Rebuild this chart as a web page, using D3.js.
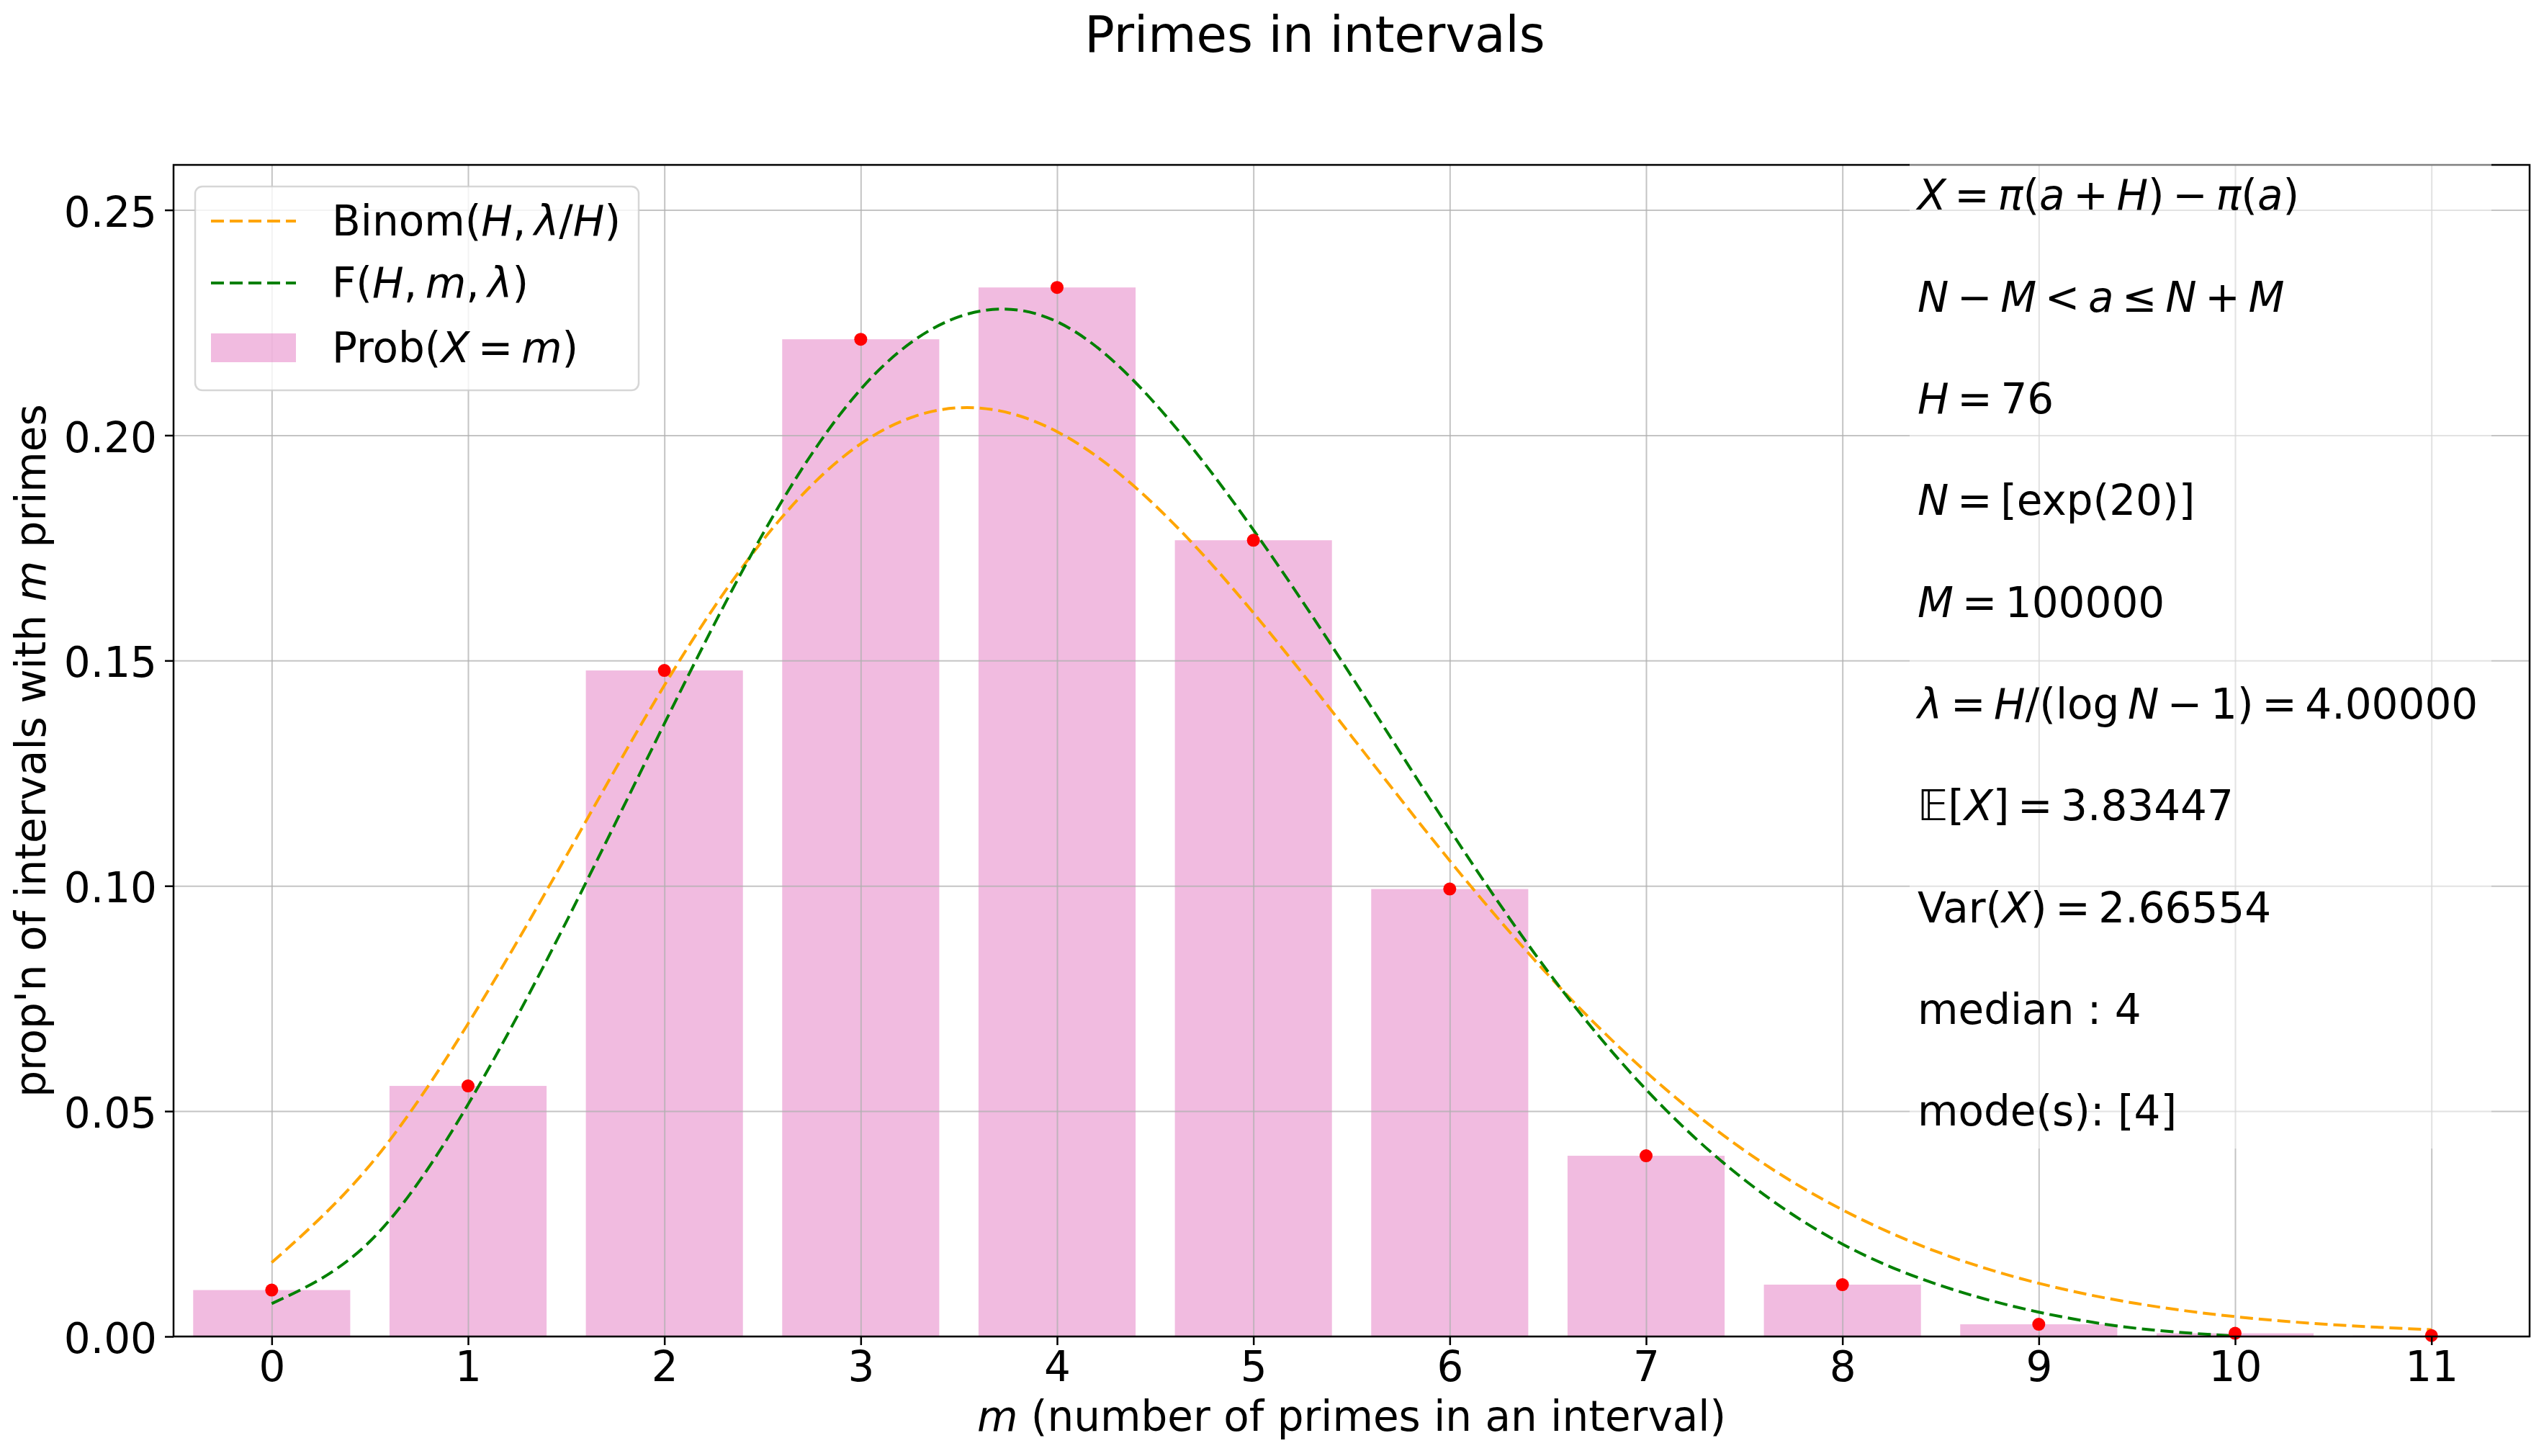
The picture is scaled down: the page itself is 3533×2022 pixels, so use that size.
<!DOCTYPE html>
<html>
<head>
<meta charset="utf-8">
<script src="https://cdn.jsdelivr.net/npm/d3@7"></script>
<style>
  body { margin: 0; background: #fff; }
  text { font-family: "DejaVu Sans", sans-serif; fill: #000; }
</style>
</head>
<body>
<div id="chart"></div>
<script>
// data
var mValues = [0, 1, 2, 3, 4, 5, 6, 7, 8, 9, 10, 11];
var probValues = [0.0103, 0.0556, 0.1478, 0.2213, 0.2328, 0.1767, 0.0993, 0.0401, 0.0115, 0.0027, 0.0007, 0.0002];

var binomX = [0, 0.5, 1, 1.5, 2, 2.5, 3, 3.5, 4, 4.5, 5, 5.5, 6, 6.5, 7, 7.5, 8, 8.5, 9, 9.5, 10, 10.5, 11];
var binomY = [0.0164, 0.0380, 0.0694, 0.1066, 0.1445, 0.1766, 0.1981, 0.2061, 0.2008, 0.1844, 0.1606, 0.1332,
              0.1056, 0.0803, 0.0587, 0.0413, 0.0281, 0.0185, 0.0118, 0.0073, 0.0044, 0.0026, 0.0015];

var fX = [0, 0.5, 1, 1.5, 2, 2.5, 3, 3.5, 4, 4.5, 5, 5.5, 6, 6.5, 7, 7.5, 8, 8.5, 9, 9.5, 10];
var fY = [0.0073, 0.0211, 0.0515, 0.0920, 0.1360, 0.1780, 0.2102, 0.2263, 0.2252, 0.2070, 0.1790,
          0.1465, 0.1125, 0.0810, 0.0548, 0.0348, 0.0205, 0.0113, 0.0054, 0.0018, 0.0001];

var yTicks = [0, 0.05, 0.10, 0.15, 0.20, 0.25];

var T = "\u2009"; // thin space, like mathtext spacing
// text block: [text, italic]
var statLines = [
  [["X",1],[T+"="+T,0],["π",1],["(",0],["a",1],[T+"+"+T,0],["H",1],[")",0],[T+"−"+T,0],["π",1],["(",0],["a",1],[")",0]],
  [["N",1],[T+"−"+T,0],["M",1],[T+"<"+T,0],["a",1],[T+"≤"+T,0],["N",1],[T+"+"+T,0],["M",1]],
  [["H",1],[T+"="+T+"76",0]],
  [["N",1],[T+"="+T+"[exp(20)]",0]],
  [["M",1],[T+"="+T+"100000",0]],
  [["λ",1],[T+"="+T,0],["H",1],["/(log"+T,0],["N",1],[T+"−"+T+"1)"+T+"="+T+"4.00000",0]],
  [["𝔼",0],["[",0],["X",1],["]"+T+"="+T+"3.83447",0]],
  [["Var(",0],["X",1],[")"+T+"="+T+"2.66554",0]],
  [["median : 4",0]],
  [["mode(s): [4]",0]]
];

var legendItems = [
  {type: "line", color: "orange", label: [["Binom(",0],["H",1],[","+T,0],["λ",1],["/",0],["H",1],[")",0]]},
  {type: "line", color: "green", label: [["F(",0],["H",1],[","+T,0],["m",1],[","+T,0],["λ",1],[")",0]]},
  {type: "bar", color: "#e377c2", label: [["Prob(",0],["X",1],[T+"="+T,0],["m",1],[")",0]]}
];

function richText(sel, segs) {
  segs.forEach(function(s) {
    sel.append("tspan").text(s[0]).style("font-style", s[1] ? "italic" : "normal");
  });
}

var W = 3533, H = 2022;
var margin = {top: 229, right: 20, bottom: 166, left: 241},
    width = W - margin.left - margin.right,
    height = H - margin.top - margin.bottom;

var svg = d3.select("#chart")
  .append("svg")
    .attr("width", W)
    .attr("height", H)
    .style("background", "#fff");

var g = svg.append("g")
    .attr("transform", "translate(" + margin.left + "," + margin.top + ")");

var x = d3.scaleLinear().domain([-0.5, 11.5]).range([0, width]);
var y = d3.scaleLinear().domain([0, 0.26]).range([height, 0]);

// bars
g.selectAll("rect.bar")
  .data(mValues)
  .enter()
  .append("rect")
    .attr("class", "bar")
    .attr("x", function(d) { return x(d - 0.4); })
    .attr("y", function(d, i) { return y(probValues[i]); })
    .attr("width", x(0.8) - x(0))
    .attr("height", function(d, i) { return y(0) - y(probValues[i]); })
    .attr("fill", "#e377c2")
    .attr("fill-opacity", 0.5);

// grid (drawn over the bars, like matplotlib)
var gx = g.append("g")
  .attr("transform", "translate(0," + height + ")")
  .call(d3.axisBottom(x).tickValues(mValues).tickSize(-height).tickFormat(""));
var gy = g.append("g")
  .call(d3.axisLeft(y).tickValues(yTicks).tickSize(-width).tickFormat(""));
[gx, gy].forEach(function(a) {
  a.select(".domain").remove();
  a.selectAll("line").attr("stroke", "#b0b0b0").attr("stroke-opacity", 0.75).attr("stroke-width", 2);
});

// curves
var line = d3.line()
  .x(function(d) { return x(d[0]); })
  .y(function(d) { return y(d[1]); })
  .curve(d3.curveNatural);

g.append("path")
  .datum(binomX.map(function(v, i) { return [v, binomY[i]]; }))
  .attr("d", line)
  .attr("fill", "none")
  .attr("stroke", "orange")
  .attr("stroke-width", 4)
  .attr("stroke-dasharray", "18,8");

g.append("path")
  .datum(fX.map(function(v, i) { return [v, fY[i]]; }))
  .attr("d", line)
  .attr("fill", "none")
  .attr("stroke", "green")
  .attr("stroke-width", 4)
  .attr("stroke-dasharray", "18,8");

// red points
g.selectAll("circle.pt")
  .data(mValues)
  .enter()
  .append("circle")
    .attr("class", "pt")
    .attr("cx", function(d) { return x(d); })
    .attr("cy", function(d, i) { return y(probValues[i]); })
    .attr("r", 9)
    .attr("fill", "red");

// stats text box
svg.append("rect")
  .attr("x", 2652).attr("y", 214)
  .attr("width", 808).attr("height", 1381)
  .attr("fill", "#fff").attr("fill-opacity", 0.5);

statLines.forEach(function(segs, i) {
  var t = svg.append("text")
    .attr("x", 2663)
    .attr("y", 291.4 + i * 141.3)
    .attr("font-size", 58);
  richText(t, segs);
});

// axes
var xAxis = g.append("g")
  .attr("transform", "translate(0," + height + ")")
  .call(d3.axisBottom(x).tickValues(mValues).tickSize(12).tickFormat(d3.format("d")));
xAxis.selectAll("text").attr("y", 62).attr("dy", null).attr("font-size", 58).attr("fill", "#000");

var yAxis = g.append("g")
  .call(d3.axisLeft(y).tickValues(yTicks).tickSize(12).tickFormat(d3.format(".2f")));
yAxis.selectAll("text").attr("x", -23).attr("dy", "0.39em").attr("font-size", 58).attr("fill", "#000");

[xAxis, yAxis].forEach(function(a) {
  a.select(".domain").remove();
  a.selectAll("line").attr("stroke", "#000").attr("stroke-width", 2.5);
  a.attr("font-family", null);
});

// spines
g.append("rect")
  .attr("width", width).attr("height", height)
  .attr("fill", "none").attr("stroke", "#000").attr("stroke-width", 2.5);

// labels
var xl = svg.append("text")
  .attr("x", margin.left + width / 2)
  .attr("y", 1987)
  .attr("text-anchor", "middle")
  .attr("font-size", 58);
richText(xl, [["m",1],[" (number of primes in an interval)",0]]);

var yl = svg.append("text")
  .attr("transform", "translate(63," + (margin.top + height / 2) + ") rotate(-90)")
  .attr("text-anchor", "middle")
  .attr("font-size", 58);
richText(yl, [["prop'n of intervals with ",0],["m",1],[" primes",0]]);

svg.append("text")
  .attr("x", 1826)
  .attr("y", 72)
  .attr("text-anchor", "middle")
  .attr("font-size", 69)
  .text("Primes in intervals");

// legend
var lg = svg.append("g").attr("transform", "translate(271,259)");
lg.append("rect")
  .attr("width", 616).attr("height", 283)
  .attr("rx", 10)
  .attr("fill", "#fff").attr("fill-opacity", 0.8)
  .attr("stroke", "#cccccc").attr("stroke-opacity", 0.8).attr("stroke-width", 2.5);

var rowBase = [68, 154, 244];
legendItems.forEach(function(it, i) {
  var row = lg.append("g");
  if (it.type === "line") {
    row.append("line")
      .attr("x1", 22).attr("x2", 140)
      .attr("y1", rowBase[i] - 20).attr("y2", rowBase[i] - 20)
      .attr("stroke", it.color).attr("stroke-width", 4)
      .attr("stroke-dasharray", "18,8");
  } else {
    row.append("rect")
      .attr("x", 22).attr("y", rowBase[i] - 40)
      .attr("width", 118).attr("height", 40)
      .attr("fill", it.color).attr("fill-opacity", 0.5);
  }
  var t = row.append("text")
    .attr("x", 190).attr("y", rowBase[i])
    .attr("font-size", 58);
  richText(t, it.label);
});
</script>
</body>
</html>
